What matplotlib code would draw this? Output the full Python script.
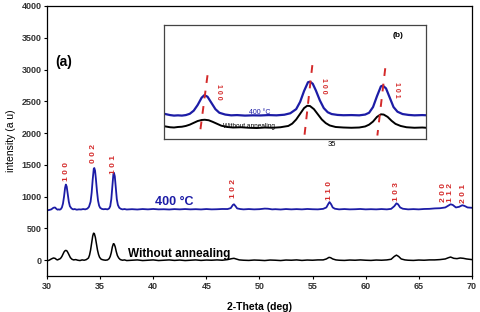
import matplotlib
matplotlib.use("Agg")
import matplotlib.pyplot as plt

plt.rcParams['font.family'] = ['Liberation Sans', 'DejaVu Sans']

# ---- 400 C pattern (2-theta, intensity) ----
x_400 = [30.0, 30.2, 30.4, 30.6, 30.75, 30.9, 31.0, 31.1, 31.2, 31.3, 31.4, 31.5, 31.6, 31.7,
         31.77, 31.85, 31.95, 32.05, 32.15, 32.3, 32.45, 32.6, 32.8, 33.0, 33.2, 33.4, 33.6,
         33.8, 33.95, 34.1, 34.2, 34.3, 34.4, 34.45, 34.52, 34.6, 34.7, 34.8, 34.9, 35.0, 35.15,
         35.3, 35.5, 35.7, 35.85, 35.95, 36.05, 36.15, 36.25, 36.3, 36.38, 36.47, 36.57, 36.67,
         36.8, 36.95, 37.1, 37.3, 37.5, 38.0, 38.5, 39.0, 39.5, 40.0, 40.5, 41.0, 41.5, 42.0,
         42.5, 43.0, 43.5, 44.0, 44.5, 45.0, 45.5, 46.0, 46.5, 47.0, 47.3, 47.5, 47.6, 47.75,
         47.9, 48.2, 48.5, 49.0, 49.5, 50.0, 50.5, 50.8, 51.2, 51.5, 52.0, 52.5, 53.0, 53.5,
         54.0, 54.5, 55.0, 55.5, 56.0, 56.3, 56.5, 56.6, 56.75, 56.9, 57.1, 57.5, 58.0, 58.5,
         59.0, 59.5, 60.0, 60.5, 61.0, 61.5, 62.0, 62.4, 62.7, 62.9, 63.05, 63.25, 63.5, 64.0,
         64.5, 65.0, 65.5, 66.0, 66.5, 67.0, 67.5, 67.8, 68.0, 68.2, 68.5, 68.8, 69.1, 69.3,
         69.6, 70.0]
y_400 = [785, 790, 800, 825, 830, 805, 795, 800, 795, 805, 830, 890, 1000, 1140,
         1190, 1160, 1040, 920, 850, 815, 800, 805, 795, 800, 798, 805, 800,
         812, 840, 920, 1060, 1270, 1440, 1450, 1410, 1280, 1090, 940, 860, 825, 808,
         802, 805, 800, 815, 850, 960, 1170, 1360, 1375, 1320, 1150, 960, 870,
         825, 808, 800, 805, 798, 803, 798, 805, 800, 806, 800, 802, 798, 804,
         800, 805, 800, 803, 799, 805, 800, 802, 806, 805, 820, 870, 880, 850,
         815, 805, 800, 805, 800, 803, 812, 810, 800, 803, 798, 805, 800, 804,
         800, 806, 802, 800, 808, 830, 890, 915, 880, 830, 810, 800, 805, 800,
         802, 806, 800, 803, 800, 805, 800, 808, 850, 895, 880, 830, 810, 800,
         804, 800, 806, 808, 815, 818, 830, 860, 880, 870, 830, 840, 865, 855,
         830, 825]

# ---- without annealing ----
x_raw = [30.0, 30.2, 30.4, 30.6, 30.75, 30.9, 31.0, 31.1, 31.2, 31.3, 31.4, 31.5, 31.6, 31.7,
         31.78, 31.88, 31.98, 32.1, 32.2, 32.35, 32.5, 32.7, 32.9, 33.1, 33.3, 33.5, 33.7,
         33.9, 34.0, 34.1, 34.2, 34.3, 34.38, 34.45, 34.55, 34.65, 34.75, 34.85, 34.95, 35.1,
         35.3, 35.5, 35.7, 35.85, 35.95, 36.05, 36.15, 36.25, 36.32, 36.42, 36.52, 36.62,
         36.75, 36.9, 37.1, 37.3, 37.5, 38.0, 38.5, 39.0, 39.5, 40.0, 40.5, 41.0, 41.5, 42.0,
         42.5, 43.0, 43.5, 44.0, 44.5, 45.0, 45.5, 46.0, 46.5, 47.0, 47.4, 47.6, 47.8, 48.1,
         48.5, 49.0, 49.5, 50.0, 50.5, 51.0, 51.5, 52.0, 52.5, 53.0, 53.5, 54.0, 54.5, 55.0,
         55.5, 56.0, 56.3, 56.55, 56.7, 56.9, 57.2, 57.5, 58.0, 58.5, 59.0, 59.5, 60.0, 60.5,
         61.0, 61.5, 62.0, 62.4, 62.7, 62.9, 63.1, 63.35, 63.7, 64.0, 64.5, 65.0, 65.5, 66.0,
         66.5, 67.0, 67.5, 67.8, 68.0, 68.3, 68.6, 68.9, 69.2, 69.5, 69.8, 70.0]
y_raw = [-10, 0, 20, 35, 30, 10, 5, 15, 20, 35, 60, 95, 130, 150,
         155, 145, 115, 75, 40, 15, 5, 10, 0, -5, 5, 0, 10,
         35, 80, 160, 270, 380, 425, 420, 360, 260, 160, 90, 45, 15,
         5, 0, 5, 25, 60, 120, 210, 260, 255, 210, 135, 75,
         35, 10, 0, 5, -5, 0, 5, -5, 0, 5, -5, 0, 5, -3,
         3, -5, 0, 5, -3, 3, 0, 5, 0, 10, 25, 30, 20, 5,
         0, -3, 3, 0, -5, 3, 0, -5, 3, 0, 5, -3, 3, 0,
         5, 5, 20, 45, 40, 20, 5, 0, -3, 3, 0, 5, 0, -3,
         3, 0, 5, 15, 60, 80, 60, 20, 5, 0, -3, 3, 0, 5,
         5, 10, 20, 40, 50, 30, 25, 35, 30, 20, 15, 10]

# peak labels (hkl) for main panel
hkl_labels = ['1 0 0', '0 0 2', '1 0 1', '1 0 2', '1 1 0', '1 0 3', '2 0 0', '1 1 2', '2 0 1']
hkl_x = [31.8, 34.4, 36.3, 47.6, 56.6, 62.9, 67.3, 68.0, 69.2]
hkl_y = [1390, 1685, 1510, 1130, 1100, 1085, 1070, 1070, 1055]

# inset peaks
inset_peaks = [31.77, 34.43, 36.28]
inset_labels = ['1 0 0', '1 0 0', '1 0 1']
inset_label_y = [690, 820, 725]
inset_line_top = [1015, 1210, 1150]
inset_shift = 560  # 400 C curve shifted down in the inset

blue = '#1c1ca6'
red = '#d42a2a'

fig = plt.figure(figsize=(4.8, 3.12), dpi=100)
ax = fig.add_axes([0.098, 0.115, 0.885, 0.866])
ax.plot(x_400, y_400, color=blue, lw=1.3)
ax.plot(x_raw, y_raw, color='black', lw=1.1)
ax.set_xlim(30, 70)
ax.set_ylim(-250, 4000)
ax.set_xticks(range(30, 71, 5))
ax.set_yticks(range(0, 4001, 500))
ax.tick_params(labelsize=6.5, length=2, width=0.8, pad=2)
for lab in ax.get_xticklabels() + ax.get_yticklabels():
    lab.set_fontweight('bold')
    lab.set_color('#333333')
ax.set_xlabel('2-Theta (deg)', fontsize=7.5, fontweight='bold', labelpad=8)
ax.set_ylabel('intensity (a u)', fontsize=7.5, labelpad=4)
for s in ax.spines.values():
    s.set_linewidth(0.9)

for t, xx, yy in zip(hkl_labels, hkl_x, hkl_y):
    ax.text(xx, yy, t, rotation=90, color=red, fontsize=6, fontweight='bold',
            ha='center', va='center')

ax.text(30.75, 3120, '(a)', fontsize=10, fontweight='bold', va='center')
ax.text(40.2, 915, '400 °C', color=blue, fontsize=9, fontweight='bold', va='center')
ax.text(37.6, 95, 'Without annealing', color='black', fontsize=8.5, fontweight='bold',
        va='center')

# ---- inset (b) ----
ins = fig.add_axes([0.342, 0.554, 0.546, 0.365])
ins.plot(x_400, [v - inset_shift for v in y_400], color=blue, lw=1.6)
ins.plot(x_raw, y_raw, color='black', lw=1.4)
ins.set_xlim(30.75, 37.4)
ins.set_ylim(-220, 1980)
ins.set_xticks([35])
ins.set_yticks([])
ins.tick_params(labelsize=5.5, length=0, pad=1)
for s in ins.spines.values():
    s.set_linewidth(0.9)
    s.set_color('#444444')

for p, t, ly, top in zip(inset_peaks, inset_labels, inset_label_y, inset_line_top):
    ins.plot([p + 0.08, p - 0.12], [top, -150], color=red, lw=1.4, dashes=(4, 4))
    ins.text(p + 0.36, ly, t, rotation=270, color=red, fontsize=5, fontweight='bold',
             ha='center', va='center')

ins.text(36.55, 1780, '(b)', fontsize=6, fontweight='bold', va='center')
ins.text(32.9, 300, '400 °C', color=blue, fontsize=5, va='center')
ins.text(32.25, 30, 'Without annealing', color='black', fontsize=4.7, va='center')

fig.savefig('out.png', dpi=100)
